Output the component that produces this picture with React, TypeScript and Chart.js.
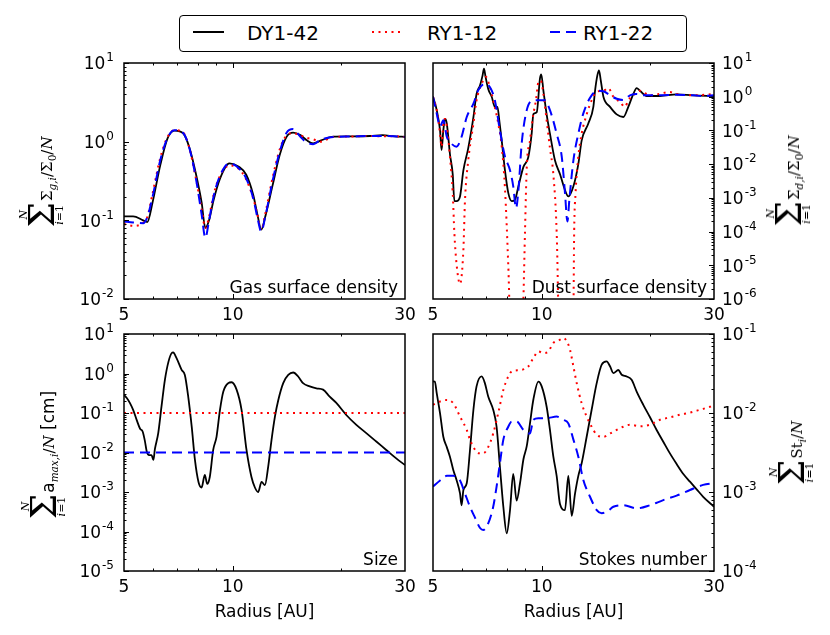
import { useEffect, useRef } from 'react';
import type { ReactNode } from 'react';
import { Chart, registerables } from 'chart.js';
import type { Plugin } from 'chart.js';

Chart.register(...registerables);

const W = 830;
const H = 635;

// radius axis, shared by the four panels
const xTickLabels = [5, 10, 30];
const xMajorTicks = [10];
const xMinorTicks = [6, 7, 8, 9, 20];

// y tick labels as powers of ten
const gasDecades = [-2, -1, 0, 1];
const dustDecades = [-6, -5, -4, -3, -2, -1, 0, 1];
const sizeDecades = [-5, -4, -3, -2, -1, 0, 1];
const stokesDecades = [-4, -3, -2, -1];

// gas surface density
const gasRadius = [5, 5.3, 5.65, 5.8, 6.0, 6.3, 6.6, 6.9, 7.3, 7.6, 7.9, 8.2, 8.4, 8.6, 8.85, 9.2, 9.8, 10.4, 10.9, 11.4, 11.7, 12.0, 12.3, 12.9, 13.5, 14.1, 14.7, 15.4, 16.0, 16.7, 17.5, 19, 21, 24, 26, 28, 30];
const gasDY = [0.112, 0.112, 0.1, 0.095, 0.17, 0.5, 1.1, 1.38, 1.27, 0.82, 0.4, 0.17, 0.08, 0.1, 0.18, 0.33, 0.53, 0.48, 0.38, 0.21, 0.12, 0.076, 0.11, 0.28, 0.68, 1.15, 1.3, 1.21, 1.05, 0.95, 1.03, 1.16, 1.17, 1.18, 1.21, 1.17, 1.15];
const gasRY12 = [0.09, 0.085, 0.093, 0.11, 0.22, 0.62, 1.15, 1.4, 1.3, 0.8, 0.35, 0.14, 0.08, 0.11, 0.21, 0.36, 0.5, 0.45, 0.33, 0.19, 0.12, 0.075, 0.12, 0.35, 0.8, 1.2, 1.28, 1.2, 1.12, 1.07, 1.0, 1.15, 1.16, 1.18, 1.17, 1.17, 1.15];
const gasRY22 = [0.097, 0.094, 0.092, 0.11, 0.2, 0.58, 1.12, 1.4, 1.28, 0.8, 0.35, 0.12, 0.06, 0.1, 0.2, 0.36, 0.53, 0.46, 0.34, 0.19, 0.11, 0.072, 0.11, 0.32, 0.75, 1.3, 1.45, 1.15, 0.98, 0.93, 1.05, 1.15, 1.16, 1.18, 1.18, 1.17, 1.15];

// dust surface density
const dustRadiusDY = [5.0, 5.12, 5.23, 5.28, 5.34, 5.40, 5.46, 5.57, 5.67, 5.73, 5.81, 5.94, 6.07, 6.26, 6.47, 6.60, 6.75, 6.86, 6.92, 6.99, 7.11, 7.27, 7.42, 7.54, 7.63, 7.75, 7.91, 8.08, 8.26, 8.43, 8.62, 8.90, 9.18, 9.38, 9.48, 9.69, 9.89, 9.97, 10.11, 10.32, 10.54, 10.88, 11.24, 11.60, 11.85, 12.24, 12.63, 12.90, 13.46, 13.90, 14.05, 14.26, 14.41, 14.57, 14.82, 15.46, 16.13, 16.83, 17.37, 17.93, 18.32, 18.71, 19.53, 21.26, 23.64, 26.28, 30];
const dustDY = [1.0, 0.4, 0.1, 0.026, 0.1, 0.22, 0.16, 0.02, 0.005, 0.0008, 0.0008, 0.0011, 0.0066, 0.03, 0.25, 1.2, 2.2, 4.3, 6.8, 3.9, 1.7, 1.0, 0.5, 0.5, 0.2, 0.05, 0.0066, 0.0014, 0.0008, 0.00087, 0.0022, 0.0083, 0.016, 0.08, 0.3, 0.35, 3.5, 4.6, 1.5, 0.3, 0.08, 0.013, 0.005, 0.0017, 0.0011, 0.0022, 0.01, 0.05, 0.16, 0.5, 1.5, 4.3, 6.0, 3.1, 1.0, 0.5, 0.3, 0.25, 0.5, 1.2, 1.8, 1.5, 1.05, 1.05, 1.17, 1.1, 1.05];
const dustRadiusRY12 = [5.0, 5.12, 5.23, 5.28, 5.34, 5.40, 5.46, 5.57, 5.67, 5.73, 5.81, 5.94, 6.07, 6.13, 6.26, 6.47, 6.60, 6.82, 7.00, 7.19, 7.34, 7.58, 7.75, 7.91, 8.08, 8.26, 8.80, 8.90, 8.99, 9.09, 9.28, 9.48, 9.64, 9.79, 9.94, 10.11, 10.32, 10.54, 10.77, 11.0, 11.24, 12.2, 12.30, 12.41, 12.63, 12.90, 13.32, 13.75, 14.20, 14.82, 15.29, 15.79, 16.48, 17.0, 17.37, 17.93, 18.71, 19.95, 22.65, 23.64, 26.28, 30];
const dustRY12 = [1.0, 0.4, 0.08, 0.033, 0.16, 0.22, 0.13, 0.017, 0.0014, 9e-5, 1.1e-5, 2.8e-6, 3e-5, 0.0008, 0.013, 0.16, 0.78, 2.4, 3.9, 1.9, 0.78, 0.16, 0.033, 0.002, 1e-5, 1e-8, 1e-8, 1e-6, 1e-4, 0.008, 0.05, 0.3, 0.78, 2.7, 3.0, 1.2, 0.2, 0.03, 0.005, 1e-4, 1e-8, 1e-8, 1e-4, 0.0014, 0.017, 0.08, 0.3, 0.78, 1.4, 1.5, 1.8, 1.0, 0.7, 0.5, 0.78, 1.1, 1.5, 1.1, 1.37, 1.2, 1.1, 1.2];
const dustRadiusRY22 = [5.0, 5.12, 5.23, 5.34, 5.46, 5.63, 5.81, 6.00, 6.20, 6.47, 6.67, 6.96, 7.19, 7.42, 7.66, 7.91, 8.17, 8.34, 8.49, 8.62, 8.80, 9.09, 9.48, 9.89, 10.21, 10.54, 11.0, 11.36, 11.60, 11.78, 11.93, 12.24, 12.63, 13.04, 13.75, 14.35, 14.82, 15.46, 16.13, 16.83, 17.56, 18.32, 19.11, 21.26, 23.64, 26.28, 28.0, 30];
const dustRY22 = [1.0, 0.32, 0.13, 0.2, 0.065, 0.04, 0.033, 0.065, 0.25, 0.62, 1.55, 2.4, 1.9, 0.78, 0.1, 0.017, 0.0066, 0.0022, 0.0005, 0.0017, 0.04, 0.4, 0.78, 0.78, 0.78, 0.4, 0.08, 0.017, 0.0014, 0.0002, 0.0009, 0.013, 0.08, 0.32, 1.1, 1.5, 1.45, 1.1, 0.87, 0.8, 1.1, 1.2, 1.1, 1.1, 1.15, 1.1, 1.05, 1.1];

// maximum grain size [cm]
const sizeRadiusDY = [5.0, 5.09, 5.19, 5.30, 5.42, 5.54, 5.63, 5.71, 5.78, 5.87, 5.96, 6.03, 6.09, 6.22, 6.35, 6.49, 6.64, 6.78, 6.84, 6.99, 7.22, 7.37, 7.53, 7.70, 7.86, 8.04, 8.20, 8.37, 8.50, 8.64, 8.83, 9.02, 9.22, 9.42, 9.72, 9.93, 10.25, 10.58, 10.92, 11.27, 11.52, 11.76, 12.02, 12.28, 12.54, 12.81, 13.09, 13.37, 13.80, 14.25, 14.71, 15.18, 15.66, 16.34, 17.05, 17.79, 18.56, 19.36, 20.63, 22.0, 23.44, 24.98, 26.62, 28.37, 30];
const sizeDY = [0.29, 0.24, 0.18, 0.12, 0.067, 0.04, 0.034, 0.02, 0.0106, 0.0086, 0.0086, 0.0065, 0.0123, 0.031, 0.145, 0.69, 2.0, 3.3, 3.4, 2.45, 1.24, 0.92, 0.26, 0.045, 0.0065, 0.0018, 0.0013, 0.0027, 0.0016, 0.0024, 0.0116, 0.025, 0.12, 0.35, 0.57, 0.6, 0.39, 0.12, 0.0116, 0.0024, 0.0013, 0.001, 0.0018, 0.0015, 0.0044, 0.021, 0.081, 0.21, 0.57, 0.92, 1.06, 0.84, 0.57, 0.47, 0.42, 0.39, 0.26, 0.18, 0.089, 0.05, 0.031, 0.019, 0.0116, 0.0071, 0.0048];
const sizeRadiusRY = [5, 30];
const sizeRY12 = [0.1, 0.1];
const sizeRY22 = [0.01, 0.01];

// Stokes number
const stokesRadiusDY = [5.0, 5.06, 5.12, 5.23, 5.34, 5.46, 5.57, 5.69, 5.81, 5.94, 6.00, 6.07, 6.20, 6.33, 6.47, 6.60, 6.82, 6.96, 7.11, 7.34, 7.50, 7.66, 7.83, 8.00, 8.17, 8.34, 8.52, 8.71, 8.90, 9.09, 9.28, 9.48, 9.79, 10.0, 10.32, 10.54, 10.77, 11.0, 11.24, 11.60, 11.85, 12.11, 12.37, 12.63, 12.90, 13.32, 13.75, 14.20, 14.66, 15.13, 15.46, 15.79, 16.30, 16.65, 17.19, 17.74, 18.32, 19.11, 19.95, 20.81, 21.71, 22.65, 23.64, 24.67, 25.74, 26.86, 28.0, 30];
const stokesDY = [0.0251, 0.025, 0.0178, 0.0099, 0.005, 0.0037, 0.0028, 0.0019, 0.00142, 0.00096, 0.00068, 0.00106, 0.00129, 0.0034, 0.011, 0.0217, 0.029, 0.0239, 0.0162, 0.011, 0.0067, 0.0021, 0.00065, 0.0003, 0.00059, 0.0017, 0.00078, 0.0013, 0.0026, 0.0038, 0.0074, 0.0147, 0.025, 0.0217, 0.012, 0.0061, 0.0028, 0.0016, 0.0007, 0.00059, 0.0016, 0.0005, 0.00096, 0.0016, 0.0023, 0.005, 0.011, 0.0239, 0.041, 0.045, 0.039, 0.032, 0.035, 0.0305, 0.029, 0.0263, 0.0187, 0.0127, 0.00883, 0.0061, 0.00433, 0.00308, 0.00226, 0.00169, 0.00135, 0.00108, 0.00087, 0.00065];
const stokesRadiusRY12 = [5.0, 5.23, 5.46, 5.69, 5.94, 6.20, 6.33, 6.54, 6.67, 6.89, 7.11, 7.34, 7.58, 7.83, 8.08, 8.26, 8.71, 9.18, 9.48, 9.79, 10.11, 10.43, 10.77, 11.24, 11.48, 11.73, 11.98, 12.24, 12.50, 12.90, 13.32, 13.75, 14.20, 14.82, 15.46, 16.13, 16.83, 17.56, 18.71, 19.95, 21.26, 22.65, 24.15, 25.74, 27.43, 29.24, 30];
const stokesRY12 = [0.0127, 0.014, 0.0146, 0.0133, 0.009, 0.0061, 0.0046, 0.0034, 0.0031, 0.0031, 0.0037, 0.0055, 0.01, 0.0196, 0.029, 0.0336, 0.035, 0.0388, 0.0496, 0.0602, 0.0574, 0.06, 0.077, 0.0847, 0.089, 0.081, 0.063, 0.0388, 0.0239, 0.0133, 0.009, 0.0067, 0.0053, 0.005, 0.0055, 0.0061, 0.0067, 0.0071, 0.0068, 0.0071, 0.0082, 0.0088, 0.0095, 0.0101, 0.011, 0.012, 0.0127];
const stokesRadiusRY22 = [5.0, 5.23, 5.46, 5.69, 5.94, 6.13, 6.33, 6.54, 6.75, 6.89, 7.11, 7.34, 7.50, 7.66, 7.83, 8.08, 8.26, 8.52, 8.90, 9.28, 9.48, 9.79, 10.32, 11.0, 11.48, 11.85, 12.24, 12.63, 13.04, 13.61, 14.20, 14.66, 15.13, 15.79, 16.83, 18.32, 19.95, 21.71, 23.64, 25.74, 28.0, 30];
const stokesRY22 = [0.00117, 0.0014, 0.0016, 0.0016, 0.0014, 0.00096, 0.00065, 0.00047, 0.00035, 0.00033, 0.0004, 0.00065, 0.00117, 0.0023, 0.0046, 0.0067, 0.0078, 0.0078, 0.0061, 0.0055, 0.0082, 0.0086, 0.0086, 0.009, 0.0082, 0.0074, 0.0046, 0.0028, 0.00142, 0.00087, 0.00059, 0.00054, 0.00056, 0.00065, 0.00068, 0.00062, 0.00068, 0.00079, 0.0009, 0.00106, 0.00123, 0.0013];

type Key = 'DY1-42' | 'RY1-12' | 'RY1-22';

interface Series {
  key: Key;
  r: number[];
  v: number[];
}

interface Area {
  left: number;
  top: number;
  right: number;
  bottom: number;
}

const lineStyle: Record<Key, { borderColor: string; borderWidth: number; borderDash: number[] }> = {
  'DY1-42': { borderColor: '#000000', borderWidth: 1.8, borderDash: [] },
  'RY1-12': { borderColor: '#ff0000', borderWidth: 2, borderDash: [2, 4.5] },
  'RY1-22': { borderColor: '#0000ff', borderWidth: 2, borderDash: [10, 6] },
};

const SANS = '"DejaVu Sans", sans-serif';
const SERIF = '"DejaVu Serif", serif';

interface PanelProps {
  area: Area;
  decades: number[];
  side: 'left' | 'right';
  label: string;
  series: Series[];
}

function Panel({ area, decades, side, label, series }: PanelProps) {
  const chartRef = useRef<HTMLCanvasElement>(null);

  useEffect(() => {
    if (!chartRef.current) return;

    const lo = decades[0];
    const hi = decades[decades.length - 1];

    // matplotlib-like frame, inward ticks and power-of-ten labels
    const axesPlugin: Plugin<'line'> = {
      id: 'mplAxes',
      afterDraw(chart) {
        const { ctx, chartArea: a } = chart;
        const xs = chart.scales.x;
        const ys = chart.scales.y;
        ctx.save();
        ctx.strokeStyle = '#000';
        ctx.fillStyle = '#000';
        ctx.lineWidth = 1;
        const seg = (x1: number, y1: number, x2: number, y2: number) => {
          ctx.beginPath();
          ctx.moveTo(x1, y1);
          ctx.lineTo(x2, y2);
          ctx.stroke();
        };
        const xTick = (v: number, len: number) => {
          const px = Math.round(xs.getPixelForValue(v)) + 0.5;
          seg(px, a.bottom, px, a.bottom - len);
          seg(px, a.top, px, a.top + len);
        };
        xMinorTicks.forEach(v => xTick(v, 2.5));
        xMajorTicks.forEach(v => xTick(v, 5));

        const ex = side === 'left' ? a.left : a.right;
        const dir = side === 'left' ? 1 : -1;
        for (const e of decades) {
          const d = Math.pow(10, e);
          const py = Math.round(ys.getPixelForValue(d)) + 0.5;
          seg(ex, py, ex + dir * 5, py);
          if (e < hi) {
            for (let k = 2; k <= 9; k++) {
              const pm = Math.round(ys.getPixelForValue(k * d)) + 0.5;
              seg(ex, pm, ex + dir * 2.5, pm);
            }
          }
        }

        ctx.lineWidth = 1.5;
        ctx.strokeRect(a.left, a.top, a.right - a.left, a.bottom - a.top);

        ctx.textBaseline = 'alphabetic';
        ctx.font = `17px ${SANS}`;
        ctx.textAlign = 'center';
        xTickLabels.forEach(v => ctx.fillText(String(v), xs.getPixelForValue(v), a.bottom + 20.5));

        ctx.textAlign = 'left';
        for (const e of decades) {
          const py = ys.getPixelForValue(Math.pow(10, e));
          const sup = String(e);
          ctx.font = `17px ${SANS}`;
          const wb = ctx.measureText('10').width;
          ctx.font = `12px ${SANS}`;
          const ws = ctx.measureText(sup).width;
          const x0 = side === 'left' ? a.left - 10 - wb - ws - 1 : a.right + 8;
          ctx.font = `17px ${SANS}`;
          ctx.fillText('10', x0, py + 6.3);
          ctx.font = `12px ${SANS}`;
          ctx.fillText(sup, x0 + wb + 1, py - 1.7);
        }

        ctx.font = `17px ${SANS}`;
        ctx.textAlign = 'right';
        ctx.fillText(label, a.right - 7, a.bottom - 6);
        ctx.restore();
      },
    };

    const chart = new Chart(chartRef.current, {
      type: 'line',
      data: {
        // last series is painted first, so blue ends up on top
        datasets: [...series].reverse().map(s => ({
          label: s.key,
          data: s.r.map((r, i) => ({ x: r, y: s.v[i] })),
          pointRadius: 0,
          fill: false,
          cubicInterpolationMode: 'monotone' as const,
          ...lineStyle[s.key],
        })),
      },
      options: {
        responsive: false,
        animation: false,
        events: [],
        layout: {
          padding: { left: area.left, top: area.top, right: W - area.right, bottom: H - area.bottom },
        },
        plugins: {
          legend: { display: false },
          tooltip: { enabled: false },
        },
        scales: {
          x: { type: 'logarithmic', min: 5, max: 30, display: false },
          y: { type: 'logarithmic', min: Math.pow(10, lo), max: Math.pow(10, hi), display: false },
        },
      },
      plugins: [axesPlugin],
    });

    return () => {
      chart.destroy();
    };
  }, [area, decades, side, label, series]);

  return <canvas ref={chartRef} width={W} height={H} style={{ position: 'absolute', left: 0, top: 0 }} />;
}

// rotated y title: big summation with limits, then the quantity
function SumTitle({ x, y, children }: { x: number; y: number; children: ReactNode }) {
  return (
    <div
      style={{
        position: 'absolute',
        left: x,
        top: y,
        transform: 'translate(-50%, -50%) rotate(-90deg)',
        whiteSpace: 'nowrap',
        display: 'flex',
        alignItems: 'center',
        color: '#000',
      }}
    >
      <span style={{ display: 'flex', flexDirection: 'column', alignItems: 'center', fontFamily: SERIF, marginRight: 1 }}>
        <span style={{ fontSize: 11, lineHeight: '10px', fontStyle: 'italic' }}>N</span>
        <span style={{ display: 'block', height: 26, fontSize: 36, lineHeight: '26px' }}>Σ</span>
        <span style={{ fontSize: 11, lineHeight: '10px' }}><i>i</i>=1</span>
      </span>
      <span style={{ fontFamily: SERIF, fontSize: 15, lineHeight: '16px', position: 'relative', top: 7 }}>{children}</span>
    </div>
  );
}

const sub = { fontSize: 10.5, verticalAlign: '-0.35em' } as const;

const areaGas: Area = { left: 124, top: 63, right: 405, bottom: 299 };
const areaDust: Area = { left: 433, top: 63, right: 714, bottom: 299 };
const areaSize: Area = { left: 124, top: 334, right: 405, bottom: 571 };
const areaStokes: Area = { left: 433, top: 334, right: 714, bottom: 571 };

const gasSeries: Series[] = [
  { key: 'DY1-42', r: gasRadius, v: gasDY },
  { key: 'RY1-12', r: gasRadius, v: gasRY12 },
  { key: 'RY1-22', r: gasRadius, v: gasRY22 },
];
const dustSeries: Series[] = [
  { key: 'DY1-42', r: dustRadiusDY, v: dustDY },
  { key: 'RY1-12', r: dustRadiusRY12, v: dustRY12 },
  { key: 'RY1-22', r: dustRadiusRY22, v: dustRY22 },
];
const sizeSeries: Series[] = [
  { key: 'DY1-42', r: sizeRadiusDY, v: sizeDY },
  { key: 'RY1-12', r: sizeRadiusRY, v: sizeRY12 },
  { key: 'RY1-22', r: sizeRadiusRY, v: sizeRY22 },
];
const stokesSeries: Series[] = [
  { key: 'DY1-42', r: stokesRadiusDY, v: stokesDY },
  { key: 'RY1-12', r: stokesRadiusRY12, v: stokesRY12 },
  { key: 'RY1-22', r: stokesRadiusRY22, v: stokesRY22 },
];

function Legend() {
  const items: { key: Key; lineX: number; textX: number }[] = [
    { key: 'DY1-42', lineX: 13, textX: 67 },
    { key: 'RY1-12', lineX: 192, textX: 247 },
    { key: 'RY1-22', lineX: 370, textX: 403 },
  ];
  return (
    <div
      style={{
        position: 'absolute',
        left: 179,
        top: 15,
        width: 508,
        height: 37,
        boxSizing: 'border-box',
        border: '1px solid #000',
        borderRadius: 4,
        background: '#fff',
      }}
    >
      {items.map(it => (
        <div key={it.key}>
          <svg width={31} height={4} style={{ position: 'absolute', left: it.lineX, top: 14 }}>
            <line
              x1={0}
              y1={2}
              x2={31}
              y2={2}
              stroke={lineStyle[it.key].borderColor}
              strokeWidth={2}
              strokeDasharray={lineStyle[it.key].borderDash.join(' ') || undefined}
            />
          </svg>
          <span style={{ position: 'absolute', left: it.textX, top: 7, fontFamily: SANS, fontSize: 20, lineHeight: '20px' }}>
            {it.key}
          </span>
        </div>
      ))}
    </div>
  );
}

const xTitle = { position: 'absolute', top: 601, width: 200, textAlign: 'center', fontFamily: SANS, fontSize: 17, lineHeight: '20px' } as const;

export default function App() {
  return (
    <div style={{ position: 'absolute', left: 0, top: 0, width: W, height: H, background: '#fff', overflow: 'hidden' }}>
      <Panel area={areaGas} decades={gasDecades} side="left" label="Gas surface density" series={gasSeries} />
      <Panel area={areaDust} decades={dustDecades} side="right" label="Dust surface density" series={dustSeries} />
      <Panel area={areaSize} decades={sizeDecades} side="left" label="Size" series={sizeSeries} />
      <Panel area={areaStokes} decades={stokesDecades} side="right" label="Stokes number" series={stokesSeries} />

      <SumTitle x={42} y={182}>
        Σ<span style={sub}><i>g,i</i></span>/Σ<span style={sub}>0</span>/<i>N</i>
      </SumTitle>
      <SumTitle x={789} y={181}>
        Σ<span style={sub}><i>d,i</i></span>/Σ<span style={sub}>0</span>/<i>N</i>
      </SumTitle>
      <SumTitle x={44} y={455}>
        <span style={{ fontFamily: SANS, fontSize: 17 }}>a</span>
        <span style={sub}><i>max,i</i></span>/<i>N</i>
        <span style={{ fontFamily: SANS, fontSize: 17 }}> [cm]</span>
      </SumTitle>
      <SumTitle x={792} y={453}>
        St<span style={sub}><i>i</i></span>/<i>N</i>
      </SumTitle>

      <div style={{ ...xTitle, left: 164.5 }}>Radius [AU]</div>
      <div style={{ ...xTitle, left: 473.5 }}>Radius [AU]</div>

      <Legend />
    </div>
  );
}
